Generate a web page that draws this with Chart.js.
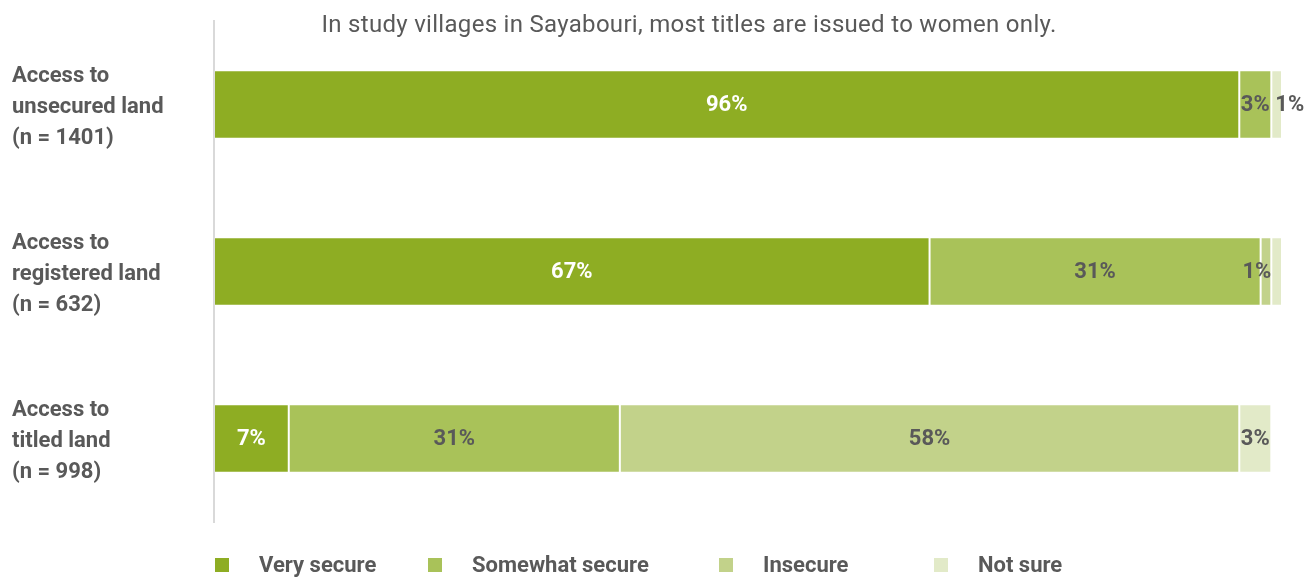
<!DOCTYPE html>
<html>
<head>
<meta charset="utf-8">
<script src="https://cdn.jsdelivr.net/npm/chart.js@4.4.1/dist/chart.umd.min.js"></script>
<style>
  html, body { margin: 0; padding: 0; background: #fff; }
  #wrap { position: relative; width: 1311px; height: 577px; font-family: Roboto, "Noto Sans", sans-serif; color: #595959; }
  #title { position: absolute; top: 10px; left: 689px; transform: translateX(-50%); white-space: nowrap; font-size: 24px; letter-spacing: 0.3px; }
  #legend { position: absolute; left: 215px; top: 552px; display: flex; font-size: 22px; font-weight: bold; }
  .item { display: flex; align-items: center; }
  .item span.box { width: 14px; height: 14px; margin-right: 30px; }
</style>
</head>
<body>
<div id="wrap">
  <canvas id="securityChart" width="1311" height="577"></canvas>
  <div id="title">In study villages in Sayabouri, most titles are issued to women only.</div>
  <div id="legend"></div>
</div>
<script>
document.addEventListener("DOMContentLoaded", function () {
    let categories = [
        ['Access to', 'unsecured land', '(n = 1401)'],
        ['Access to', 'registered land', '(n = 632)'],
        ['Access to', 'titled land', '(n = 998)']
    ];
    let seriesNames = ['Very secure', 'Somewhat secure', 'Insecure', 'Not sure'];
    let verySecure = [96, 67, 7];
    let somewhatSecure = [3, 31, 31];
    let insecure = [0, 1, 58];
    let notSure = [1, 1, 3];

    let colors = ['#8EAD23', '#A9C259', '#C2D28A', '#E2EAC8'];
    let fontFamily = 'Roboto, "Noto Sans", sans-serif';

    // percentage labels inside each segment; narrow segments get pushed to an edge
    let segmentLabels = {
        id: 'segmentLabels',
        afterDatasetsDraw(chart) {
            let ctx = chart.ctx;
            ctx.save();
            ctx.font = 'bold 22px ' + fontFamily;
            ctx.textBaseline = 'middle';
            let n = chart.data.labels.length;
            for (let j = 0; j < n; j++) {
                let prevSmall = false;
                chart.data.datasets.forEach((ds, i) => {
                    let v = ds.data[j];
                    if (!v) return;
                    let bar = chart.getDatasetMeta(i).data[j];
                    let x0 = Math.min(bar.base, bar.x), x1 = Math.max(bar.base, bar.x);
                    let txt = v + '%';
                    let w = ctx.measureText(txt).width;
                    ctx.fillStyle = i === 0 ? '#ffffff' : '#595959';
                    if (w <= x1 - x0 + 2) {
                        ctx.textAlign = 'center';
                        ctx.fillText(txt, (x0 + x1) / 2, bar.y + 1);
                        prevSmall = false;
                        return;
                    }
                    if (prevSmall) return;
                    let hasNext = chart.data.datasets.slice(i + 1).some(d => d.data[j] > 0);
                    if (hasNext) {
                        ctx.textAlign = 'right';
                        ctx.fillText(txt, x1, bar.y + 1);
                    } else {
                        ctx.textAlign = 'left';
                        ctx.fillText(txt, x0 + 4, bar.y + 1);
                    }
                    prevSmall = true;
                });
            }
            ctx.restore();
        }
    };

    let ctx = document.getElementById('securityChart').getContext('2d');
    let chart = new Chart(ctx, {
        type: 'bar',
        data: {
            labels: categories,
            datasets: [verySecure, somewhatSecure, insecure, notSure].map((d, i) => ({
                label: seriesNames[i],
                data: d,
                backgroundColor: colors[i],
                borderColor: 'rgba(255,255,255,0.15)',
                borderWidth: 1,
                borderSkipped: false,
                categoryPercentage: 1,
                barPercentage: 0.41
            }))
        },
        options: {
            indexAxis: 'y',
            responsive: false,
            animation: false,
            layout: { padding: { left: 12, right: 29, top: 21, bottom: 55 } },
            plugins: {
                legend: { display: false },
                tooltip: { enabled: false }
            },
            scales: {
                x: {
                    stacked: true,
                    min: 0,
                    max: 100,
                    display: false
                },
                y: {
                    stacked: true,
                    grid: { display: false },
                    border: { display: true, color: '#D9D9D9', width: 2 },
                    afterFit: function (scale) {
                        scale.width = 202;
                        scale.paddingTop = 0;
                        scale.paddingBottom = 0;
                    },
                    ticks: {
                        crossAlign: 'far',
                        padding: 8,
                        labelOffset: 3,
                        color: '#595959',
                        font: { family: fontFamily, size: 22, weight: 'bold', lineHeight: 1.42 }
                    }
                }
            }
        },
        plugins: [segmentLabels]
    });

    // legend row under the plot
    let widths = [213, 291, 215, null];
    let legend = document.getElementById('legend');
    chart.data.datasets.forEach((ds, i) => {
        let item = document.createElement('div');
        item.className = 'item';
        if (widths[i]) item.style.width = widths[i] + 'px';
        let box = document.createElement('span');
        box.className = 'box';
        box.style.background = ds.backgroundColor;
        let txt = document.createElement('span');
        txt.textContent = ds.label;
        item.appendChild(box);
        item.appendChild(txt);
        legend.appendChild(item);
    });
});
</script>
</body>
</html>
